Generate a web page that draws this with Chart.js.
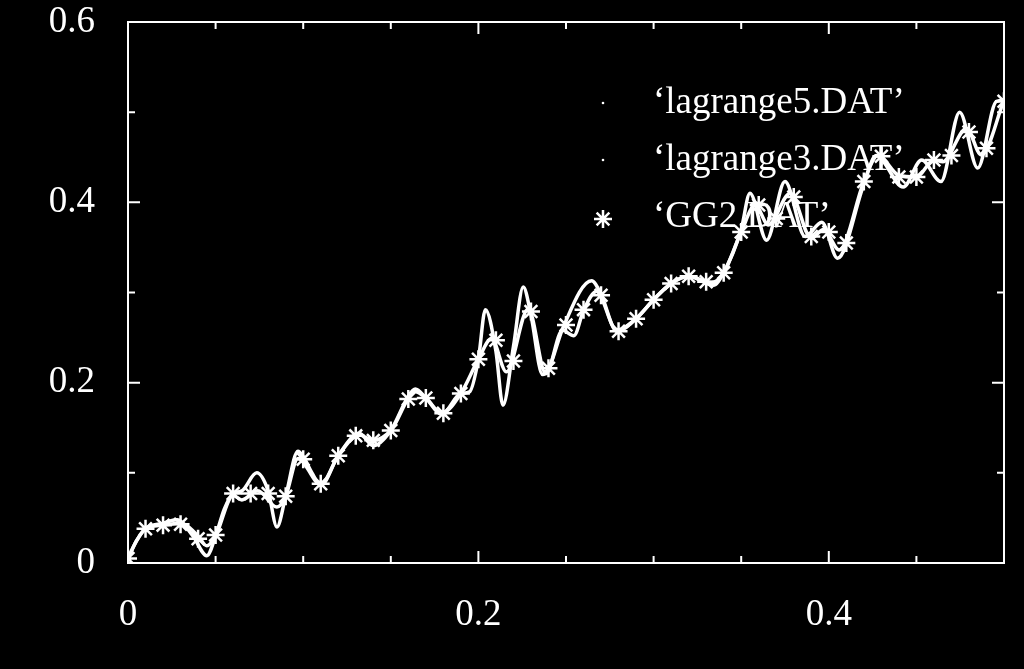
<!DOCTYPE html>
<html>
<head>
<meta charset="utf-8">
<script src="https://cdn.jsdelivr.net/npm/chart.js@4.4.1/dist/chart.umd.min.js"></script>
<style>
  html, body { margin: 0; padding: 0; background: #000; }
  #wrap { width: 1024px; height: 669px; }
</style>
</head>
<body>
<div id="wrap"><canvas id="chart"></canvas></div>
<script>
// GG2.DAT samples (asterisks)
const gg2X = [0, 0.01, 0.02, 0.03, 0.04, 0.05, 0.06, 0.07, 0.08, 0.09,
  0.10, 0.11, 0.12, 0.13, 0.14, 0.15, 0.16, 0.17, 0.18, 0.19,
  0.20, 0.21, 0.22, 0.23, 0.24, 0.25, 0.26, 0.27, 0.28, 0.29,
  0.30, 0.31, 0.32, 0.33, 0.34, 0.35, 0.36, 0.37, 0.38, 0.39,
  0.40, 0.41, 0.42, 0.43, 0.44, 0.45, 0.46, 0.47, 0.48, 0.49, 0.50];
const gg2Y = [0.005, 0.038, 0.042, 0.043, 0.027, 0.031, 0.077, 0.077, 0.077, 0.074,
  0.115, 0.088, 0.119, 0.141, 0.136, 0.147, 0.182, 0.183, 0.166, 0.188,
  0.226, 0.247, 0.224, 0.279, 0.216, 0.264, 0.281, 0.297, 0.257, 0.271,
  0.292, 0.310, 0.318, 0.312, 0.322, 0.367, 0.397, 0.382, 0.406, 0.362,
  0.367, 0.355, 0.423, 0.451, 0.428, 0.428, 0.447, 0.452, 0.478, 0.460, 0.512];

// lagrange5.DAT (larger wiggles)
const lag5X = [0, 0.005, 0.01, 0.02, 0.028, 0.037, 0.045, 0.05, 0.055, 0.06, 0.065,
  0.0735, 0.08, 0.085, 0.09, 0.097, 0.10, 0.105, 0.11, 0.12, 0.132, 0.14, 0.15,
  0.16, 0.164, 0.17, 0.179, 0.19, 0.195, 0.20, 0.204, 0.21, 0.214, 0.22, 0.2256,
  0.23, 0.2366, 0.24, 0.2485, 0.2646, 0.27, 0.279, 0.29, 0.30, 0.31, 0.32, 0.334,
  0.34, 0.35, 0.355, 0.3645, 0.375, 0.3865, 0.396, 0.405, 0.42, 0.427, 0.4425,
  0.453, 0.464, 0.4747, 0.485, 0.4957, 0.50];
const lag5Y = [0.005, 0.025, 0.038, 0.044, 0.048, 0.03, 0.008, 0.03, 0.06, 0.077, 0.08,
  0.10, 0.08, 0.04, 0.074, 0.124, 0.118, 0.10, 0.086, 0.119, 0.144, 0.13, 0.147,
  0.185, 0.193, 0.183, 0.165, 0.188, 0.19, 0.226, 0.281, 0.235, 0.175, 0.24, 0.306,
  0.275, 0.209, 0.215, 0.262, 0.313, 0.298, 0.257, 0.271, 0.292, 0.310, 0.318, 0.308,
  0.322, 0.37, 0.41, 0.358, 0.423, 0.362, 0.378, 0.338, 0.42, 0.452, 0.417,
  0.447, 0.423, 0.50, 0.438, 0.512, 0.513];

// lagrange3.DAT (smaller wiggles)
const lag3X = [0, 0.005, 0.01, 0.02, 0.03, 0.04, 0.045, 0.05, 0.06, 0.065, 0.074,
  0.085, 0.09, 0.097, 0.11, 0.12, 0.132, 0.14, 0.15, 0.164, 0.17, 0.179, 0.19,
  0.20, 0.2075, 0.216, 0.2285, 0.2385, 0.248, 0.2545, 0.26, 0.2674, 0.279, 0.29,
  0.30, 0.31, 0.32, 0.333, 0.34, 0.35, 0.358, 0.3655, 0.378, 0.39, 0.397, 0.406,
  0.42, 0.428, 0.44, 0.45, 0.46, 0.465, 0.4786, 0.487, 0.50];
const lag3Y = [0.005, 0.025, 0.038, 0.042, 0.044, 0.03, 0.019, 0.03, 0.075, 0.07, 0.08,
  0.062, 0.074, 0.116, 0.087, 0.119, 0.142, 0.136, 0.147, 0.19, 0.183, 0.166, 0.188,
  0.226, 0.249, 0.212, 0.282, 0.21, 0.258, 0.252, 0.28, 0.301, 0.258, 0.271,
  0.292, 0.31, 0.318, 0.311, 0.322, 0.367, 0.397, 0.375, 0.41, 0.36, 0.37, 0.347,
  0.423, 0.452, 0.43, 0.428, 0.447, 0.445, 0.482, 0.4525, 0.513];

const seriesNames = ['\u2018lagrange5.DAT\u2019', '\u2018lagrange3.DAT\u2019', '\u2018GG2.DAT\u2019'];

// axis ticks
const xMajor = [0, 0.2, 0.4];
const xMinor = [0.05, 0.1, 0.15, 0.25, 0.3, 0.35, 0.45];
const yMajor = [0, 0.2, 0.4, 0.6];
const yMinor = [0.1, 0.3, 0.5];

const FONT = '"Liberation Serif", "DejaVu Serif", serif';
const toXY = (xs, ys) => xs.map((x, i) => ({ x, y: ys[i] }));

// box + inward ticks (gnuplot style, mirrored)
const frameTicks = {
  id: 'frameTicks',
  afterDraw(chart) {
    const { ctx, chartArea: a, scales: { x, y } } = chart;
    ctx.save();
    ctx.strokeStyle = '#fff';
    ctx.lineWidth = 2;
    ctx.strokeRect(a.left, a.top, a.right - a.left, a.bottom - a.top);
    ctx.beginPath();
    const xt = (v, len) => {
      const p = x.getPixelForValue(v);
      ctx.moveTo(p, a.bottom); ctx.lineTo(p, a.bottom - len);
      ctx.moveTo(p, a.top); ctx.lineTo(p, a.top + len);
    };
    const yt = (v, len) => {
      const p = y.getPixelForValue(v);
      ctx.moveTo(a.left, p); ctx.lineTo(a.left + len, p);
      ctx.moveTo(a.right, p); ctx.lineTo(a.right - len, p);
    };
    xMajor.forEach(v => xt(v, 12));
    xMinor.forEach(v => xt(v, 7));
    yMajor.forEach(v => yt(v, 12));
    yMinor.forEach(v => yt(v, 7));
    ctx.stroke();
    ctx.restore();
  }
};

// key in the top-right corner of the plot
const keyBox = {
  id: 'keyBox',
  beforeDatasetsDraw(chart) {
    const { ctx, chartArea: a } = chart;
    const textX = a.right - 351;
    const symX = a.right - 401;
    ctx.save();
    ctx.fillStyle = '#fff';
    ctx.font = '37px ' + FONT;
    ctx.textBaseline = 'middle';
    ctx.textAlign = 'left';
    seriesNames.forEach((name, i) => {
      const ty = a.top + 81 + i * 57;
      ctx.fillText(name, textX, ty);
      if (i < 2) {
        ctx.beginPath();
        ctx.arc(symX, ty, 1.3, 0, Math.PI * 2);
        ctx.fill();
      } else {
        ctx.strokeStyle = '#fff';
        ctx.lineWidth = 2.5;
        Chart.helpers.drawPoint(ctx, { pointStyle: 'star', radius: 9, rotation: 0, borderWidth: 2.5 }, symX, ty + 2);
      }
    });
    ctx.restore();
  }
};

new Chart(document.getElementById('chart'), {
  type: 'line',
  data: {
    datasets: [
      {
        label: seriesNames[0],
        data: toXY(lag5X, lag5Y),
        borderColor: '#fff',
        borderWidth: 3.5,
        pointRadius: 0,
        cubicInterpolationMode: 'monotone',
        fill: false
      },
      {
        label: seriesNames[1],
        data: toXY(lag3X, lag3Y),
        borderColor: '#fff',
        borderWidth: 3.5,
        pointRadius: 0,
        cubicInterpolationMode: 'monotone',
        fill: false
      },
      {
        label: seriesNames[2],
        data: toXY(gg2X, gg2Y),
        showLine: false,
        pointStyle: 'star',
        pointRadius: 9,
        pointBorderWidth: 2.5,
        pointBorderColor: '#fff',
        pointBackgroundColor: '#fff'
      }
    ]
  },
  options: {
    responsive: true,
    maintainAspectRatio: false,
    animation: false,
    devicePixelRatio: 1,
    layout: { padding: { top: 22, right: 20, left: 0, bottom: 0 } },
    plugins: {
      legend: { display: false },
      tooltip: { enabled: false }
    },
    scales: {
      x: {
        type: 'linear',
        min: 0,
        max: 0.5,
        grid: { display: false, drawTicks: false },
        border: { display: false },
        afterBuildTicks: s => { s.ticks = xMajor.map(v => ({ value: v })); },
        afterFit: s => { s.height = 106; s.paddingLeft = 0; s.paddingRight = 0; },
        ticks: {
          color: '#fff',
          padding: 30,
          maxRotation: 0,
          font: { family: FONT, size: 37 },
          callback: v => String(+Number(v).toFixed(1))
        }
      },
      y: {
        type: 'linear',
        min: 0,
        max: 0.6,
        grid: { display: false, drawTicks: false },
        border: { display: false },
        afterBuildTicks: s => { s.ticks = yMajor.map(v => ({ value: v })); },
        afterFit: s => { s.width = 128; s.paddingTop = 0; s.paddingBottom = 0; },
        ticks: {
          color: '#fff',
          padding: 33,
          font: { family: FONT, size: 37 },
          callback: v => String(+Number(v).toFixed(1))
        }
      }
    }
  },
  plugins: [frameTicks, keyBox]
});
</script>
</body>
</html>
